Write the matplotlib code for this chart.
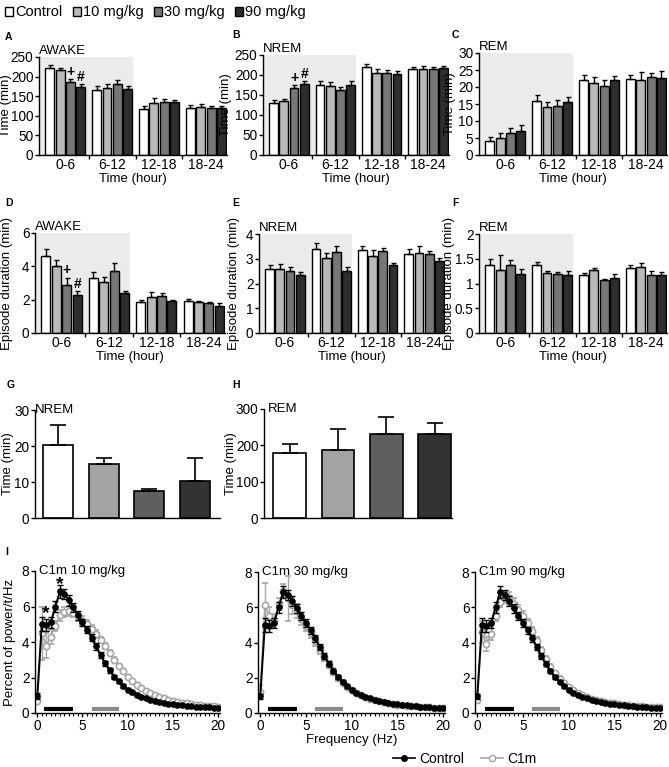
import matplotlib
matplotlib.use('Agg')
import matplotlib.pyplot as plt
from matplotlib.patches import Patch
from matplotlib.lines import Line2D
import numpy as np

plt.rcParams['font.family'] = ['Liberation Sans', 'DejaVu Sans']

W, H = 669, 767

# ---- data: bar panels (rows = dose, cols = time bin) ----
groups = ['0-6', '6-12', '12-18', '18-24']
doses = ['Control', '10 mg/kg', '30 mg/kg', '90 mg/kg']
dose_colors = ['white', '#b9b9b9', '#777777', '#2e2e2e']

awake_time = [[223, 167, 117, 121], [217, 170, 133, 122], [185, 181, 134, 119], [173, 168, 135, 119]]
awake_time_err = [[7, 10, 8, 7], [5, 10, 12, 8], [8, 10, 10, 5], [7, 9, 6, 7]]
nrem_time = [[131, 175, 220, 214], [136, 173, 204, 214], [167, 163, 204, 216], [178, 174, 202, 217]]
nrem_time_err = [[6, 10, 8, 7], [5, 10, 12, 8], [9, 8, 9, 5], [8, 10, 7, 6]]
rem_time = [[4.2, 16.0, 22.0, 22.4], [5.0, 14.0, 21.2, 22.1], [6.5, 14.3, 20.2, 22.9], [7.2, 15.5, 22.0, 22.6]]
rem_time_err = [[1.0, 1.6, 1.6, 1.1], [1.5, 1.6, 1.6, 2.4], [1.4, 1.8, 1.8, 1.1], [1.5, 1.5, 1.1, 2.0]]

awake_dur = [[4.6, 3.3, 1.85, 1.9], [4.0, 3.05, 2.15, 1.85], [2.9, 3.75, 2.2, 1.8], [2.3, 2.4, 1.9, 1.65]]
awake_dur_err = [[0.45, 0.35, 0.15, 0.12], [0.4, 0.3, 0.3, 0.1], [0.4, 0.45, 0.2, 0.08], [0.2, 0.15, 0.07, 0.15]]
nrem_dur = [[2.6, 3.4, 3.35, 3.2], [2.6, 3.05, 3.12, 3.25], [2.5, 3.28, 3.3, 3.2], [2.33, 2.5, 2.75, 2.92]]
nrem_dur_err = [[0.15, 0.25, 0.16, 0.2], [0.2, 0.2, 0.25, 0.28], [0.18, 0.22, 0.15, 0.12], [0.12, 0.15, 0.07, 0.13]]
rem_dur = [[1.37, 1.38, 1.17, 1.32], [1.27, 1.21, 1.27, 1.33], [1.37, 1.19, 1.07, 1.18], [1.19, 1.18, 1.12, 1.17]]
rem_dur_err = [[0.12, 0.05, 0.04, 0.06], [0.3, 0.05, 0.04, 0.08], [0.1, 0.04, 0.03, 0.07], [0.1, 0.07, 0.07, 0.07]]

g_nrem = [20.2, 15.0, 7.5, 10.3]
g_nrem_err = [5.6, 1.6, 0.6, 6.5]
h_rem = [178, 187, 230, 232]
h_rem_err = [27, 58, 48, 30]
gh_colors = ['white', '#a3a3a6', '#5f5f5f', '#333333']

# ---- data: power spectra ----
freq = np.arange(0, 20.5, 0.5)
ctrl_pow = [0.95, 5.0, 4.95, 5.1, 6.0, 6.85, 6.7, 6.35, 5.95, 5.5, 5.1, 4.7, 4.25, 3.75, 3.25, 2.8, 2.4,
            2.05, 1.78, 1.52, 1.32, 1.16, 1.03, 0.92, 0.83, 0.75, 0.68, 0.62, 0.57, 0.53, 0.49, 0.46, 0.43,
            0.41, 0.38, 0.36, 0.34, 0.33, 0.31, 0.3, 0.28]
ctrl_err = [0.15, 0.4, 0.35, 0.3, 0.3, 0.35, 0.3, 0.3, 0.25, 0.25, 0.22, 0.2, 0.2, 0.18, 0.16, 0.14, 0.12,
            0.11, 0.1, 0.09, 0.08, 0.07, 0.07, 0.06, 0.06, 0.05, 0.05, 0.05, 0.04, 0.04, 0.04, 0.04, 0.03,
            0.03, 0.03, 0.03, 0.03, 0.03, 0.03, 0.03, 0.03]
c1m_10 = [0.7, 4.5, 3.8, 4.3, 4.9, 5.5, 5.7, 5.75, 5.65, 5.45, 5.2, 5.0, 4.75, 4.45, 4.1, 3.75, 3.4,
          3.0, 2.65, 2.35, 2.05, 1.8, 1.6, 1.42, 1.26, 1.12, 1.0, 0.9, 0.82, 0.75, 0.68, 0.63, 0.58,
          0.54, 0.5, 0.47, 0.44, 0.42, 0.4, 0.38, 0.36]
c1m_10_err = [0.15, 1.5, 0.7, 0.4, 0.3, 0.3, 0.3, 0.3, 0.25, 0.25, 0.25, 0.22, 0.2, 0.2, 0.18, 0.17, 0.15,
              0.14, 0.13, 0.12, 0.11, 0.1, 0.09, 0.08, 0.08, 0.07, 0.07, 0.06, 0.06, 0.05, 0.05, 0.05, 0.05,
              0.04, 0.04, 0.04, 0.04, 0.04, 0.04, 0.04, 0.04]
c1m_30 = [1.2, 6.1, 5.5, 5.2, 6.2, 6.9, 6.5, 6.1, 5.8, 5.35, 4.95, 4.55, 4.1, 3.6, 3.15, 2.75, 2.35,
          2.0, 1.72, 1.48, 1.28, 1.13, 1.0, 0.9, 0.81, 0.73, 0.67, 0.61, 0.56, 0.52, 0.48, 0.45, 0.42,
          0.4, 0.38, 0.36, 0.34, 0.33, 0.31, 0.3, 0.29]
c1m_30_err = [0.4, 1.3, 0.5, 0.4, 0.35, 0.4, 1.3, 0.5, 0.4, 0.35, 0.3, 0.3, 0.28, 0.25, 0.22, 0.2, 0.18,
              0.16, 0.14, 0.12, 0.11, 0.1, 0.09, 0.08, 0.08, 0.07, 0.07, 0.06, 0.06, 0.05, 0.05, 0.05, 0.05,
              0.04, 0.04, 0.04, 0.04, 0.04, 0.04, 0.04, 0.04]
c1m_90 = [0.75, 4.6, 3.9, 4.5, 5.5, 6.3, 6.6, 6.5, 6.2, 5.85, 5.5, 5.1, 4.65, 4.1, 3.55, 3.05, 2.62,
          2.25, 1.95, 1.68, 1.46, 1.28, 1.13, 1.01, 0.91, 0.82, 0.75, 0.68, 0.63, 0.58, 0.54, 0.5, 0.47,
          0.44, 0.42, 0.4, 0.38, 0.36, 0.34, 0.33, 0.32]
c1m_90_err = [0.2, 0.6, 0.4, 0.35, 0.3, 0.3, 0.35, 0.35, 0.3, 0.3, 0.28, 0.26, 0.25, 0.22, 0.2, 0.18, 0.16,
              0.14, 0.13, 0.12, 0.11, 0.1, 0.09, 0.08, 0.08, 0.07, 0.07, 0.06, 0.06, 0.05, 0.05, 0.05, 0.05,
              0.04, 0.04, 0.04, 0.04, 0.04, 0.04, 0.04, 0.04]
delta_band = [0.8, 4.0]
theta_band = [6.0, 9.0]
GRAY = '#a6a6a6'


def px_axes(fig, l, t, r, b):
    ax = fig.add_axes([l / W, 1 - b / H, (r - l) / W, (b - t) / H])
    ax._px = (l, r)
    return ax


def ylabel_at(ax, text, xpx):
    # centre of the y label at a given pixel column, like the reference
    l, r = ax._px
    ax.set_ylabel(text, fontsize=9.5, va='center')
    ax.yaxis.set_label_coords((xpx - l) / (r - l), 0.5)


def style(ax):
    for s in ['top', 'right']:
        ax.spines[s].set_visible(False)
    for s in ['left', 'bottom']:
        ax.spines[s].set_linewidth(1.0)
    ax.tick_params(direction='out', length=3, width=1, pad=1, labelsize=9.8)


def bar_panel(ax, vals, errs, ylim, yticks, title, ylabel, ylab_x, marks=()):
    style(ax)
    ax.axvspan(-0.7, 1.45, color='#ebebeb', zorder=0, lw=0)
    for j in range(4):
        x = np.arange(4) + (j - 1.5) * 0.22
        ax.bar(x, vals[j], 0.19, color=dose_colors[j], edgecolor='black', linewidth=1, zorder=2)
        ax.errorbar(x, vals[j], yerr=[np.zeros(4), errs[j]], fmt='none', ecolor='black',
                    elinewidth=1, capsize=1.8, capthick=1, zorder=3)
    for j, sym, yv in marks:
        ax.text((j - 1.5) * 0.22, yv, sym, ha='center', va='bottom', fontsize=10, fontweight='bold')
    ax.set_xlim(-0.56, 3.45)
    ax.set_ylim(*ylim)
    ax.set_yticks(yticks)
    ax.set_yticklabels([('%g' % v) for v in yticks])
    ax.set_xticks(range(4))
    ax.set_xticklabels(groups, fontsize=10)
    ax.tick_params(axis='x', which='major', length=0, pad=2)
    ax.set_xticks([0.5, 1.5, 2.5], minor=True)
    ax.tick_params(axis='x', which='minor', length=3, width=1)
    ax.set_xlabel('Time (hour)', fontsize=9.5, labelpad=1)
    ylabel_at(ax, ylabel, ylab_x)
    ax.text(0.0, 1.0, title, transform=ax.transAxes, ha='left', va='bottom', fontsize=9.5)


def spectrum_panel(ax, c1m, c1m_err, title):
    style(ax)
    ax.errorbar(freq, c1m, yerr=c1m_err, color=GRAY, lw=1.2, marker='o', ms=4.5, mfc='white',
                mec=GRAY, mew=1.2, ecolor=GRAY, elinewidth=1, capsize=2, zorder=2)
    ax.errorbar(freq, ctrl_pow, yerr=ctrl_err, color='black', lw=1.4, marker='o', ms=3.8, mfc='black',
                mec='black', ecolor='black', elinewidth=1, capsize=2, zorder=3)
    ax.plot(delta_band, [0.25, 0.25], color='black', lw=3, solid_capstyle='butt')
    ax.plot(theta_band, [0.25, 0.25], color='#8a8a8a', lw=3, solid_capstyle='butt')
    ax.set_xlim(-0.25, 20.2)
    ax.set_ylim(0, 8)
    ax.set_yticks([0, 2, 4, 6, 8])
    ax.set_xticks([0, 5, 10, 15, 20])
    ax.set_xticks(freq, minor=True)
    ax.tick_params(axis='x', which='minor', length=2.5, width=0.8)
    ax.text(0.02, 1.0, title, transform=ax.transAxes, ha='left', va='center', fontsize=9.5)


fig = plt.figure(figsize=(W / 100, H / 100), dpi=100)

# row 1
axA = px_axes(fig, 39, 57, 227, 155)
bar_panel(axA, awake_time, awake_time_err, (0, 250), [0, 50, 100, 150, 200, 250], 'AWAKE', 'Time (min)', 6.5,
          marks=[(2, '+', 193), (3, '#', 180)])
axB = px_axes(fig, 263, 55, 449, 155)
bar_panel(axB, nrem_time, nrem_time_err, (0, 250), [0, 50, 100, 150, 200, 250], 'NREM', 'Time (min)', 226,
          marks=[(2, '+', 176), (3, '#', 186)])
axC = px_axes(fig, 479, 53, 667, 155)
bar_panel(axC, rem_time, rem_time_err, (0, 30), [0, 5, 10, 15, 20, 25, 30], 'REM', 'Time (min)', 450)

# row 2
axD = px_axes(fig, 35, 233, 225, 333)
bar_panel(axD, awake_dur, awake_dur_err, (0, 6), [0, 2, 4, 6], 'AWAKE', 'Episode duration (min)', 7,
          marks=[(2, '+', 3.35), (3, '#', 2.55)])
axE = px_axes(fig, 259, 234, 445, 333)
bar_panel(axE, nrem_dur, nrem_dur_err, (0, 4), [0, 1, 2, 3, 4], 'NREM', 'Episode duration (min)', 234)
axF = px_axes(fig, 479, 234, 667, 333)
bar_panel(axF, rem_dur, rem_dur_err, (0, 2), [0, 0.5, 1, 1.5, 2], 'REM', 'Episode duration (min)', 449)

# row 3
axG = px_axes(fig, 35, 410, 220, 518)
style(axG)
axG.bar(range(4), g_nrem, 0.66, color=gh_colors, edgecolor='black', linewidth=1.2, zorder=2)
axG.errorbar(range(4), g_nrem, yerr=[np.zeros(4), g_nrem_err], fmt='none', ecolor='black',
             elinewidth=1.2, capsize=6, capthick=1.2, zorder=3)
axG.set_xlim(-0.51, 3.56)
axG.set_ylim(0, 30)
axG.set_yticks([0, 10, 20, 30])
axG.set_xticks([])
ylabel_at(axG, 'Time (min)', 8)
axG.text(0.0, 1.0, 'NREM', transform=axG.transAxes, ha='left', va='center', fontsize=9.5)

axH = px_axes(fig, 264, 409, 452, 518)
style(axH)
axH.bar(range(4), h_rem, 0.68, color=gh_colors, edgecolor='black', linewidth=1.2, zorder=2)
axH.errorbar(range(4), h_rem, yerr=[np.zeros(4), h_rem_err], fmt='none', ecolor='black',
             elinewidth=1.2, capsize=6, capthick=1.2, zorder=3)
axH.set_xlim(-0.53, 3.36)
axH.set_ylim(0, 300)
axH.set_yticks([0, 100, 200, 300])
axH.set_xticks([])
ylabel_at(axH, 'Time (min)', 231)
axH.text(0.02, 1.0, 'REM', transform=axH.transAxes, ha='left', va='center', fontsize=9.5)

# row 4
axI1 = px_axes(fig, 35, 571, 220, 713)
spectrum_panel(axI1, c1m_10, c1m_10_err, 'C1m 10 mg/kg')
ylabel_at(axI1, 'Percent of power/t/Hz', 10)
axI1.text(0.95, 5.6, '*', ha='center', va='center', fontsize=14, fontweight='bold')
axI1.text(2.5, 7.25, '*', ha='center', va='center', fontsize=14, fontweight='bold')
axI2 = px_axes(fig, 258, 572, 445, 713)
spectrum_panel(axI2, c1m_30, c1m_30_err, 'C1m 30 mg/kg')
axI2.set_xlabel('Frequency (Hz)', fontsize=9.5, labelpad=1)
axI3 = px_axes(fig, 475, 572, 662, 713)
spectrum_panel(axI3, c1m_90, c1m_90_err, 'C1m 90 mg/kg')

# panel letters
for lab, x, y in [('A', 5, 37), ('B', 232, 35), ('C', 452, 35), ('D', 5, 203), ('E', 232, 203),
                  ('F', 452, 203), ('G', 7, 385), ('H', 232, 385), ('I', 5, 552)]:
    fig.text(x / W, 1 - y / H, lab, fontsize=7.5, fontweight='bold', ha='left', va='center')

# top legend
handles = [Patch(facecolor=c, edgecolor='black', linewidth=1) for c in dose_colors]
fig.legend(handles, doses, loc='upper left', bbox_to_anchor=(-0.012, 1.01), ncol=4, frameon=False,
           fontsize=10.5, handlelength=0.55, handleheight=0.55, handletextpad=0.15, columnspacing=0.7)

# bottom legend
lh = [Line2D([], [], color='black', marker='o', ms=4, mfc='black', lw=1.2),
      Line2D([], [], color=GRAY, marker='o', ms=4.5, mfc='white', mec=GRAY, lw=1.2)]
fig.legend(lh, ['Control', 'C1m'], loc='center left', bbox_to_anchor=(380 / W, 1 - 759 / H), ncol=2,
           frameon=False, fontsize=10, handlelength=1.6, handletextpad=0.3, columnspacing=1.2)

fig.savefig('out.png', dpi=100)
